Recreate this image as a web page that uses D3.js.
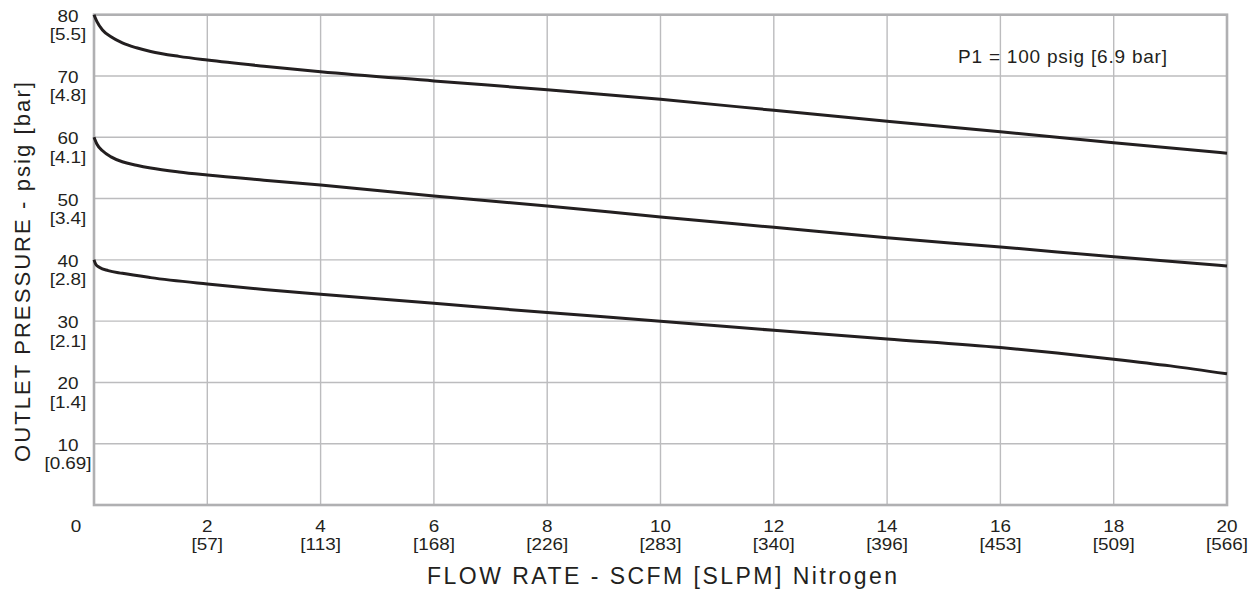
<!DOCTYPE html>
<html><head><meta charset="utf-8">
<script src="https://cdn.jsdelivr.net/npm/d3@7"></script>
<style>body{margin:0;background:#fff}svg{display:block}text{font-family:"Liberation Sans",Arial,sans-serif;fill:#231f20}</style>
</head><body><svg id="c" width="1258" height="592"></svg>
<script>
// flow in SCFM
const topFlow = [0, 0.05, 0.15, 0.3, 0.5, 0.75, 1.0, 1.5, 2, 3, 4, 6, 8, 10, 12, 14, 16, 18, 20];
const topP    = [80, 78.9, 77.5, 76.4, 75.4, 74.6, 74.0, 73.2, 72.6, 71.6, 70.7, 69.2, 67.75, 66.2, 64.4, 62.6, 60.9, 59.1, 57.4];
const midFlow = [0, 0.05, 0.15, 0.3, 0.5, 0.75, 1.0, 1.5, 2, 3, 4, 6, 8, 10, 12, 14, 16, 18, 20];
const midP    = [60, 58.9, 57.8, 56.8, 56.0, 55.45, 55.0, 54.35, 53.85, 53.0, 52.2, 50.4, 48.8, 47.0, 45.3, 43.6, 42.1, 40.5, 39.0];
const lowFlow = [0, 0.03, 0.1, 0.25, 0.5, 1.0, 2, 3, 4, 6, 8, 10, 12, 14, 16, 17, 18, 19, 20];
const lowP    = [40, 39.3, 38.75, 38.25, 37.8, 37.1, 36.05, 35.15, 34.4, 32.9, 31.4, 30.0, 28.5, 27.1, 25.7, 24.8, 23.8, 22.7, 21.4];
const xTicks = [2, 4, 6, 8, 10, 12, 14, 16, 18, 20];
const xTickSub = ["[57]", "[113]", "[168]", "[226]", "[283]", "[340]", "[396]", "[453]", "[509]", "[566]"];
const yTicks = [10, 20, 30, 40, 50, 60, 70, 80];
const yTickSub = ["[0.69]", "[1.4]", "[2.1]", "[2.8]", "[3.4]", "[4.1]", "[4.8]", "[5.5]"];
const xTitle = "FLOW RATE - SCFM [SLPM] Nitrogen";
const yTitle = "OUTLET PRESSURE - psig [bar]";
const note = "P1 = 100 psig [6.9 bar]";

const svg = d3.select("#c");
const L = 94, R = 1227, T = 14.7, B = 505;
const x = d3.scaleLinear().domain([0, 20]).range([L, R]);
const y = d3.scaleLinear().domain([0, 80]).range([B, T]);

// grid
const g = svg.append("g");
g.selectAll(".vg").data(xTicks.slice(0, -1)).join("line")
  .attr("x1", d => x(d)).attr("x2", d => x(d)).attr("y1", T).attr("y2", B)
  .attr("stroke", "#bcbcbe").attr("stroke-width", 1.4);
g.selectAll(".hg").data(yTicks.slice(0, -1)).join("line")
  .attr("y1", d => y(d)).attr("y2", d => y(d)).attr("x1", L).attr("x2", R)
  .attr("stroke", "#bcbcbe").attr("stroke-width", 1.4);
svg.append("rect").attr("x", L).attr("y", T).attr("width", R - L).attr("height", B - T)
  .attr("fill", "none").attr("stroke", "#b0b0b2").attr("stroke-width", 2.6);

// curves
const line = d3.line().x(d => x(d[0])).y(d => y(d[1])).curve(d3.curveMonotoneX);
[[topFlow, topP], [midFlow, midP], [lowFlow, lowP]].forEach(([f, p]) => {
  svg.append("path").datum(f.map((v, i) => [v, p[i]])).attr("d", line)
    .attr("fill", "none").attr("stroke", "#231f20").attr("stroke-width", 3).attr("stroke-linejoin", "round");
});

function label(px, py, txt, size, sx) {
  svg.append("g").attr("transform", `translate(${px},${py})`)
    .append("text").attr("transform", `scale(${sx},1)`).attr("text-anchor", "middle")
    .attr("font-size", size).text(txt);
}
// y tick labels
yTicks.forEach((v, i) => {
  label(68, y(v) + 7, String(v), 16, 1.18);
  label(68, y(v) + 25.5, yTickSub[i], 16, 1.18);
});
// x tick labels
label(76, 532, "0", 16, 1.18);
xTicks.forEach((v, i) => {
  label(x(v), 532, String(v), 16, 1.18);
  label(x(v), 550, xTickSub[i], 16, 1.18);
});
// titles
svg.append("text").attr("x", 662).attr("y", 584).attr("text-anchor", "middle")
  .attr("font-size", 23).attr("textLength", 470).attr("lengthAdjust", "spacing").text(xTitle);
svg.append("text").attr("transform", "translate(30,272) rotate(-90)").attr("text-anchor", "middle")
  .attr("font-size", 22).attr("textLength", 380).attr("lengthAdjust", "spacing").text(yTitle);
svg.append("text").attr("x", 958).attr("y", 63).attr("font-size", 19)
  .attr("textLength", 209).attr("lengthAdjust", "spacing").text(note);
</script></body></html>
